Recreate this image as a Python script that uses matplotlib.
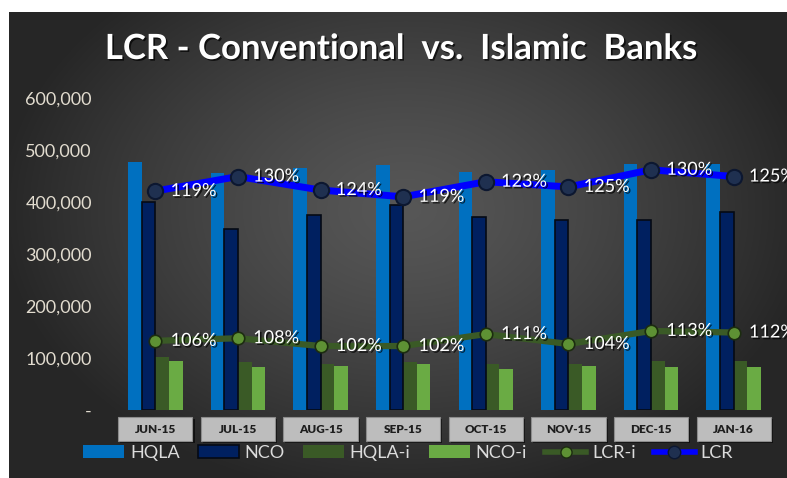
import numpy as np
import matplotlib
matplotlib.use("Agg")
import matplotlib.pyplot as plt
import matplotlib.patheffects as pe
from matplotlib.patches import Rectangle, Patch
from matplotlib.lines import Line2D
from matplotlib.transforms import blended_transform_factory


# ---------------------------------------------------------------------
# Data (values in the bar axis units).
# ---------------------------------------------------------------------
months = ["JUN-15", "JUL-15", "AUG-15", "SEP-15",
          "OCT-15", "NOV-15", "DEC-15", "JAN-16"]

hqla = [477000, 455000, 465000, 471000, 458000, 461000, 474000, 474000]
nco = [400000, 349000, 375000, 394000, 372000, 365000, 365000, 381000]
hqla_i = [101000, 92000, 88000, 92000, 88000, 88000, 95000, 95000]
nco_i = [95000, 82000, 85000, 88000, 79000, 85000, 82000, 82000]

# where the LCR lines sit on the chart, and the percentages printed on them
lcr_plot = [421000, 449000, 423000, 410000, 439000, 429000, 462000, 449000]
lcr_i_plot = [133000, 138000, 123000, 123000, 146000, 127000, 152000, 149000]
lcr_pct = [119, 130, 124, 119, 123, 125, 130, 125]
lcr_i_pct = [106, 108, 102, 102, 111, 104, 113, 112]

yticks = [0, 100000, 200000, 300000, 400000, 500000, 600000]


FONT = "Lato"
plt.rcParams["font.family"] = [FONT, "DejaVu Sans"]

W, H = 787, 478
fig = plt.figure(figsize=(W / 100, H / 100), dpi=100, facecolor="white")

# ---------------------------------------------------------------------
# Dark radial-gradient background panel (white strip only top and left).
# ---------------------------------------------------------------------
bg = fig.add_axes([9 / W, 0, (W - 9) / W, (H - 12) / H], zorder=-10)
gx, gy = np.meshgrid(np.linspace(-1, 1, 400), np.linspace(-1, 1, 250))
r = np.sqrt(((gx - 0.02) / 1.05) ** 2 + ((gy + 0.15) / 1.25) ** 2)
r = np.clip(r, 0, 1)
inner, outer = 0.34, 0.15
shade = inner + (outer - inner) * r ** 1.3
img = np.dstack([shade, shade, shade])
bg.imshow(img, aspect="auto", extent=[0, 1, 0, 1], interpolation="bicubic")
bg.set_axis_off()

# ---------------------------------------------------------------------
# Main chart.
# ---------------------------------------------------------------------
ax = fig.add_axes([114 / W, (H - 410) / H, 661 / W, 312 / H])
ax.set_facecolor("none")

x = np.arange(len(months))
bw = 0.165

ax.bar(x - 1.5 * bw, hqla, bw, color="#0070C0", zorder=2)
ax.bar(x - 0.5 * bw, nco, bw, color="#002060", edgecolor="#050a14",
       linewidth=1.2, zorder=3)
ax.bar(x + 0.5 * bw, hqla_i, bw, color="#3a5a26", zorder=2)
ax.bar(x + 1.5 * bw, nco_i, bw, color="#6aab44", zorder=2)

ax.plot(x, lcr_i_plot, color="#3a5a26", linewidth=4.5, marker="o",
        markersize=9, markerfacecolor="#5e9134", markeredgecolor="#1c2c10",
        markeredgewidth=1.2, zorder=5)
ax.plot(x, lcr_plot, color="#0000FF", linewidth=5, marker="o",
        markersize=11, markerfacecolor="#1f3050", markeredgecolor="#0c1730",
        markeredgewidth=1.5, zorder=5)

shadow = [pe.withSimplePatchShadow(offset=(1.2, -1.2), shadow_rgbFace="black",
                                   alpha=0.7)]
for xi, yv, p in zip(x, lcr_plot, lcr_pct):
    ax.annotate(f"{p}%", (xi, yv), xytext=(11, 0), textcoords="offset points",
                ha="left", va="center", color="white", fontsize=13,
                path_effects=shadow, zorder=6, annotation_clip=False)
for xi, yv, p in zip(x, lcr_i_plot, lcr_i_pct):
    ax.annotate(f"{p}%", (xi, yv), xytext=(11, 0), textcoords="offset points",
                ha="left", va="center", color="white", fontsize=13,
                path_effects=shadow, zorder=6, annotation_clip=False)

ax.set_xlim(-0.5, len(months) - 0.5)
ax.set_ylim(0, 600000)
ax.set_yticks(yticks)
ax.set_yticklabels(["-" if v == 0 else f"{v:,}" for v in yticks])
ax.tick_params(axis="y", length=0, pad=16, labelsize=13, labelcolor="#e2dccf")
ax.set_xticks([])
for s in ax.spines.values():
    s.set_visible(False)

# category label boxes under the axis
trans = blended_transform_factory(ax.transData, ax.transAxes)
box_shadow = [pe.SimplePatchShadow(offset=(1.5, -1.5), shadow_rgbFace="black",
                                   alpha=0.6), pe.Normal()]
for xi, m in zip(x, months):
    rect = Rectangle((xi - 0.45, -0.100), 0.9, 0.078, transform=trans,
                     facecolor="#bdbdbd", edgecolor="#8c8c8c", linewidth=0.8,
                     clip_on=False, path_effects=box_shadow, zorder=4)
    ax.add_patch(rect)
    ax.text(xi, -0.061, m, transform=trans, ha="center", va="center",
            fontsize=8.5, fontweight="heavy", color="#1e1e1e", zorder=5)

# title
fig.text(0.51, (H - 49) / H, "LCR - Conventional  vs.  Islamic  Banks",
         ha="center", va="center", color="white", fontsize=25,
         fontweight="bold", path_effects=shadow)

# legend
handles = [
    Patch(facecolor="#0070C0", edgecolor="none"),
    Patch(facecolor="#002060", edgecolor="#050a14", linewidth=1.2),
    Patch(facecolor="#3a5a26", edgecolor="none"),
    Patch(facecolor="#6aab44", edgecolor="none"),
    Line2D([], [], color="#3a5a26", linewidth=4, marker="o", markersize=8,
           markerfacecolor="#5e9134", markeredgecolor="#1c2c10"),
    Line2D([], [], color="#0000FF", linewidth=4, marker="o", markersize=9,
           markerfacecolor="#1f3050", markeredgecolor="#0c1730"),
]
labels = ["HQLA", "NCO", "HQLA-i", "NCO-i", "LCR-i", "LCR"]
leg = fig.legend(handles, labels, loc="center", ncol=6,
                 bbox_to_anchor=(408 / W, (H - 453) / H), frameon=False,
                 fontsize=13, handlelength=2.3, handleheight=0.75,
                 handletextpad=0.3, columnspacing=1.0, labelcolor="#dcdcdc")

fig.savefig("out.png", dpi=100, facecolor="white")
